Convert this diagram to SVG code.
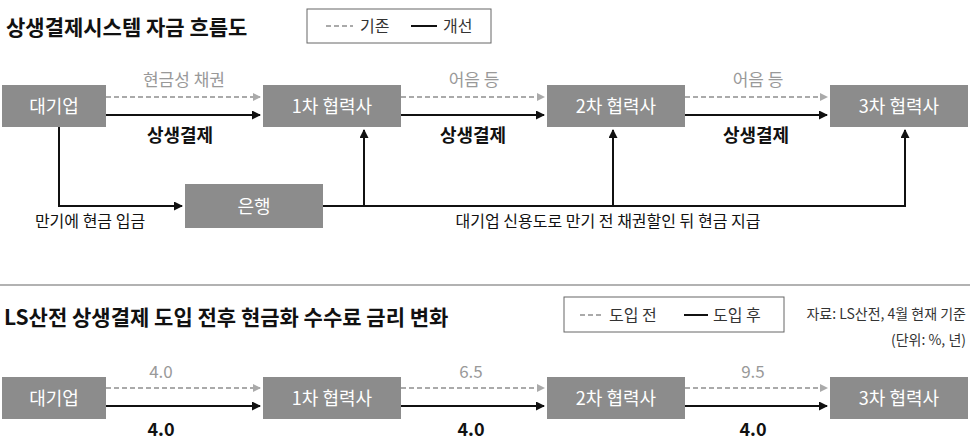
<svg xmlns="http://www.w3.org/2000/svg" width="970" height="441" viewBox="0 0 970 441">
<style>
text{font-family:"Noto Sans CJK KR","Liberation Sans",sans-serif}
.box{fill:#8c8c8c}
.bt{fill:#fff;font-size:18px;text-anchor:middle}
.t{font-size:21px;font-weight:bold;fill:#111}
.g{fill:#999;font-size:17px;text-anchor:middle}
.b{fill:#111;font-size:18px;font-weight:bold;text-anchor:middle}
.n{fill:#111;font-size:16px;text-anchor:middle}
.d{stroke:#aaa;stroke-width:2;stroke-dasharray:5,3;fill:none}
.s{stroke:#111;stroke-width:2;fill:none}
</style>
<defs>
<marker id="ag" markerWidth="8" markerHeight="8" refX="7" refY="4" orient="auto" markerUnits="userSpaceOnUse"><path d="M0,0L8,4L0,8z" fill="#aaa"/></marker>
<marker id="ak" markerWidth="9" markerHeight="9" refX="8" refY="4.5" orient="auto" markerUnits="userSpaceOnUse"><path d="M0,0L9,4.5L0,9z" fill="#111"/></marker>
</defs>
<rect width="970" height="441" fill="#fff"/>
<text class="t" x="6" y="35">상생결제시스템 자금 흐름도</text>
<g id="legend1"><rect x="307" y="9" width="184" height="34" fill="#fff" stroke="#666"/>
<line x1="326" y1="26" x2="353" y2="26" class="d"/><text x="360" y="32" font-size="16" fill="#333">기존</text>
<line x1="411" y1="26" x2="437" y2="26" class="s" stroke-width="3"/><text x="443" y="32" font-size="16" fill="#333">개선</text></g>
<g id="n1"><rect class="box" x="2" y="85" width="104" height="42"/><text class="bt" x="54" y="113">대기업</text></g>
<g id="n2"><rect class="box" x="263" y="85" width="138" height="42"/><text class="bt" x="332" y="113">1차 협력사</text></g>
<g id="n3"><rect class="box" x="547" y="85" width="138" height="42"/><text class="bt" x="616" y="113">2차 협력사</text></g>
<g id="n4"><rect class="box" x="830" y="85" width="138" height="42"/><text class="bt" x="899" y="113">3차 협력사</text></g>
<g id="bank"><rect class="box" x="185" y="184" width="138" height="44"/><text class="bt" x="254" y="213">은행</text></g>
<g id="edges">
<line x1="106" y1="97" x2="260" y2="97" class="d" marker-end="url(#ag)"/>
<line x1="106" y1="115" x2="260" y2="115" class="s" marker-end="url(#ak)"/>
<line x1="401" y1="97" x2="544" y2="97" class="d" marker-end="url(#ag)"/>
<line x1="401" y1="115" x2="544" y2="115" class="s" marker-end="url(#ak)"/>
<line x1="685" y1="97" x2="827" y2="97" class="d" marker-end="url(#ag)"/>
<line x1="685" y1="115" x2="827" y2="115" class="s" marker-end="url(#ak)"/>
<path d="M59,127V206H182" class="s" marker-end="url(#ak)"/>
<path d="M323,206H905V130" class="s" marker-end="url(#ak)"/>
<line x1="364" y1="206" x2="364" y2="130" class="s" marker-end="url(#ak)"/>
<line x1="613" y1="206" x2="613" y2="130" class="s" marker-end="url(#ak)"/>
</g>
<text class="g" x="184" y="86">현금성 채권</text>
<text class="g" x="474" y="86">어음 등</text>
<text class="g" x="758" y="86">어음 등</text>
<text class="b" x="180" y="142">상생결제</text>
<text class="b" x="473" y="142">상생결제</text>
<text class="b" x="756" y="142">상생결제</text>
<text class="n" x="90" y="227">만기에 현금 입금</text>
<text class="n" x="608" y="227">대기업 신용도로 만기 전 채권할인 뒤 현금 지급</text>
<line x1="0" y1="285" x2="970" y2="285" stroke="#999" stroke-width="1.5"/>
<text class="t" x="4" y="325">LS산전 상생결제 도입 전후 현금화 수수료 금리 변화</text>
<g id="legend2"><rect x="564" y="297" width="220" height="35" fill="#fff" stroke="#666"/>
<line x1="580" y1="315" x2="603" y2="315" class="d"/><text x="609" y="321" font-size="16" fill="#333">도입 전</text>
<line x1="684" y1="315" x2="708" y2="315" class="s" stroke-width="3"/><text x="713" y="321" font-size="16" fill="#333">도입 후</text></g>
<text x="966" y="319" font-size="14" fill="#333" text-anchor="end">자료: LS산전, 4월 현재 기준</text>
<text x="966" y="345" font-size="14" fill="#333" text-anchor="end">(단위: %, 년)</text>
<g id="m1"><rect class="box" x="2" y="377" width="104" height="42"/><text class="bt" x="54" y="405">대기업</text></g>
<g id="m2"><rect class="box" x="263" y="377" width="138" height="42"/><text class="bt" x="332" y="405">1차 협력사</text></g>
<g id="m3"><rect class="box" x="547" y="377" width="138" height="42"/><text class="bt" x="616" y="405">2차 협력사</text></g>
<g id="m4"><rect class="box" x="830" y="377" width="138" height="42"/><text class="bt" x="899" y="405">3차 협력사</text></g>
<g id="edges2">
<line x1="106" y1="388" x2="260" y2="388" class="d" marker-end="url(#ag)"/>
<line x1="106" y1="406" x2="260" y2="406" class="s" marker-end="url(#ak)"/>
<line x1="401" y1="388" x2="544" y2="388" class="d" marker-end="url(#ag)"/>
<line x1="401" y1="406" x2="544" y2="406" class="s" marker-end="url(#ak)"/>
<line x1="685" y1="388" x2="827" y2="388" class="d" marker-end="url(#ag)"/>
<line x1="685" y1="406" x2="827" y2="406" class="s" marker-end="url(#ak)"/>
</g>
<text class="g" x="161" y="378">4.0</text>
<text class="g" x="471" y="378">6.5</text>
<text class="g" x="753" y="378">9.5</text>
<text class="b" x="161" y="436">4.0</text>
<text class="b" x="471" y="436">4.0</text>
<text class="b" x="753" y="436">4.0</text>
</svg>
